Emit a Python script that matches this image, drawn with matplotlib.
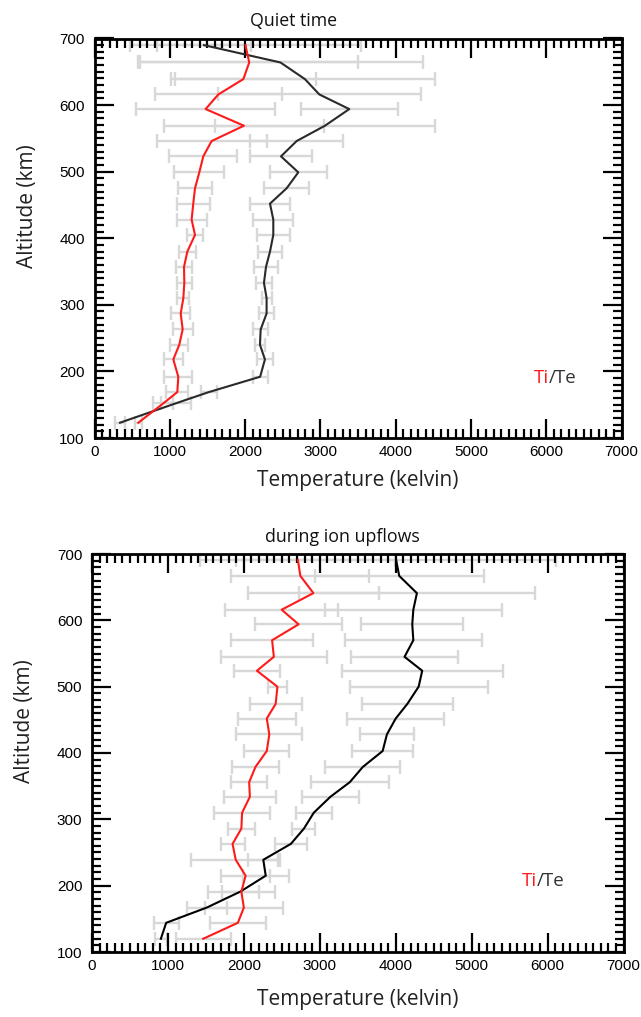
import matplotlib
matplotlib.use("Agg")
import matplotlib.pyplot as plt
from matplotlib.ticker import MultipleLocator

# ---------------- data ----------------
alt_quiet = [690, 664, 639, 616, 594, 569, 546, 523, 499, 475, 452, 428, 405,
             380, 357, 333, 310, 287, 263, 240, 218, 192, 169, 152, 123]
ti_quiet = [2005, 2055, 1977, 1645, 1476, 1985, 1556, 1445, 1392, 1335, 1312, 1290, 1335,
            1233, 1189, 1193, 1180, 1145, 1171, 1126, 1047, 1113, 1100, 914, 582]
ti_quiet_err = [1540, 1450, 965, 840, 925, 1060, 730, 450, 332, 221, 221, 199, 108,
                117, 102, 102, 80, 130, 133, 122, 122, 186, 148, 135, 50]
te_quiet = [1454, 2470, 2795, 2986, 3384, 3061, 2685, 2477, 2707, 2552, 2331, 2375, 2375,
            2331, 2278, 2251, 2286, 2286, 2207, 2198, 2264, 2200, 1520, 1078, 339]
te_quiet_err = [620, 1890, 1722, 1346, 646, 1460, 620, 416, 376, 299, 261, 266, 221,
                160, 166, 111, 66, 104, 100, 66, 111, 100, 110, 200, 66]

alt_up = [691, 667, 641, 616, 594, 570, 545, 524, 500, 474, 452, 428, 403,
          379, 356, 334, 310, 286, 263, 239, 215, 191, 167, 144, 120]
ti_up = [2712, 2744, 2916, 2498, 2721, 2372, 2395, 2172, 2442, 2419, 2302, 2335, 2302,
         2153, 2070, 2079, 1977, 1967, 1851, 1893, 2023, 1967, 2000, 1921, 1465]
ti_up_err = [1284, 907, 860, 744, 570, 542, 698, 305, 126, 342, 379, 437, 298,
             314, 237, 347, 365, 179, 158, 586, 325, 442, 512, 365, 360]
te_up = [4005, 4046, 4279, 4232, 4218, 4232, 4116, 4349, 4302, 4153, 4000, 3884, 3828,
         3567, 3395, 3140, 2921, 2791, 2619, 2256, 2288, 1953, 1512, 977, 907]
te_up_err = [2112, 1112, 1549, 1163, 674, 898, 705, 1060, 907, 602, 637, 360, 405,
             493, 514, 379, 237, 151, 209, 200, 300, 240, 260, 163, 81]

titles = ["Quiet time", "during ion upflows"]
xlabel = "Temperature (kelvin)"
ylabel = "Altitude (km)"

# ---------------- figure ----------------
W, H = 641, 1017
fig = plt.figure(figsize=(W / 100, H / 100), dpi=100)

def px_axes(l, r, t, b):
    return fig.add_axes([l / W, 1 - b / H, (r - l) / W, (b - t) / H])

ax_top = px_axes(94.5, 621.5, 38.5, 438)
ax_bot = px_axes(92, 623.5, 554, 952)

label_font = "Open Sans"
tick_font = "Liberation Sans"
GRAY = "#d8d8d8"

panels = [
    (ax_top, alt_quiet, ti_quiet, ti_quiet_err, te_quiet, te_quiet_err, "#2a2a2a",
     (5830, 190), -0.080, 0.377),
    (ax_bot, alt_up, ti_up, ti_up_err, te_up, te_up_err, "#000000",
     (5660, 207), -0.093, 0.472),
]

for i, (ax, alt, ti, tie, te, tee, tecol, lab_pos, xlab_y, title_x) in enumerate(panels):
    ax.errorbar(te, alt, xerr=tee, fmt="none", ecolor=GRAY, elinewidth=1.7,
                capsize=5, capthick=1.7, zorder=1)
    ax.errorbar(ti, alt, xerr=tie, fmt="none", ecolor=GRAY, elinewidth=1.7,
                capsize=5, capthick=1.7, zorder=1)
    ax.plot(te, alt, color=tecol, lw=1.5, zorder=3)
    ax.plot(ti, alt, color="#ff1a1a", lw=1.5, zorder=4)

    ax.set_xlim(0, 7000)
    ax.set_ylim(100, 700)
    ax.xaxis.set_major_locator(MultipleLocator(1000))
    ax.xaxis.set_minor_locator(MultipleLocator(100))
    ax.yaxis.set_major_locator(MultipleLocator(100))
    ax.yaxis.set_minor_locator(MultipleLocator(10))
    ax.tick_params(which="both", direction="in", top=True, right=True, width=1.6,
                   color="black")
    ax.tick_params(which="major", length=13.5, labelsize=11)
    ax.tick_params(axis="x", which="major", pad=5)
    ax.tick_params(axis="y", which="major", pad=7)
    ax.tick_params(which="minor", length=6.5)
    for lbl in ax.get_xticklabels() + ax.get_yticklabels():
        lbl.set_fontfamily(tick_font)
    for s in ax.spines.values():
        s.set_linewidth(2.0)
        s.set_zorder(5)

    ax.set_title(titles[i], fontsize=12.8, family=label_font, pad=9, color="#111111",
                 x=title_x)
    ax.set_xlabel(xlabel, fontsize=15, family=label_font, color="#222222")
    ax.xaxis.set_label_coords(0.5, xlab_y)
    ax.set_ylabel(ylabel, fontsize=15, family=label_font, color="#222222")
    ax.yaxis.set_label_coords(-0.107, 0.58)

    t1 = ax.text(lab_pos[0], lab_pos[1], "Ti", color="#ff1a1a", fontsize=13.5,
                 family=label_font, va="center", ha="left")
    fig.canvas.draw()
    bb = t1.get_window_extent()
    inv = ax.transData.inverted()
    x_end = inv.transform((bb.x1, bb.y0))[0]
    ax.text(x_end, lab_pos[1], "/Te", color="#333333", fontsize=13.5,
            family=label_font, va="center", ha="left")

fig.savefig("out.png", dpi=100)
